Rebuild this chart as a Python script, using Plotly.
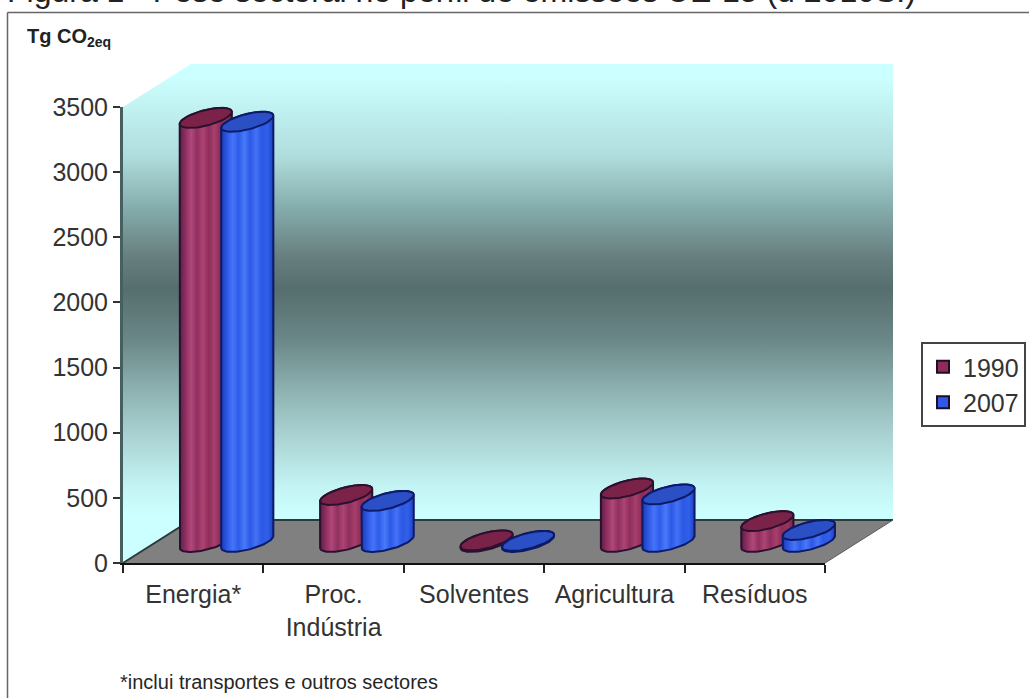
import numpy as np
import plotly.graph_objects as go

# Sector emissions, Tg CO2eq
categories = ["Energia*", "Proc.<br>Indústria", "Solventes", "Agricultura", "Resíduos"]
values_1990 = [3255, 360, 12, 410, 160]
values_2007 = [3225, 315, 8, 365, 92]
y_ticks = [0, 500, 1000, 1500, 2000, 2500, 3000, 3500]
series_names = ["1990", "2007"]

W, H = 1029, 698
X_LEFT, X_RIGHT, Y_BOTTOM, Y_TOP = 123, 825, 563, 107
Y_MAX = 3500
PX_PER_CAT = (X_RIGHT - X_LEFT) / 5
PX_PER_UNIT = (Y_BOTTOM - Y_TOP) / Y_MAX

# Oblique projection of the chart box, expressed in axis units
DEPTH_X = 68 / PX_PER_CAT
DEPTH_Y = 43 / PX_PER_UNIT
BAR_W = 41.5 / PX_PER_CAT
CAP_SKEW_X = 15.8 / PX_PER_CAT
CAP_SKEW_Y = 10 / PX_PER_UNIT
BASE_DEPTH = 0.49

WALL_SCALE = [
    [0.00, "#ccffff"], [0.096, "#ccffff"], [0.15, "#c4f4f4"], [0.25, "#acd4d4"],
    [0.35, "#8cb0b0"], [0.45, "#6a8686"], [0.55, "#566e6e"], [0.615, "#687f7f"],
    [0.715, "#86aeae"], [0.814, "#b0dcdc"], [0.974, "#ccffff"], [1.00, "#ccffff"],
]

STYLES = {
    "1990": dict(line="#2b1030", top="#7a2248", swatch="#8f2a5c",
                 stripes=["#5a2048", "#8f2f5f", "#b0487a", "#90305f", "#ad4472", "#8e2e5c",
                          "#a83f6c", "#8c2c58", "#9a3460", "#702448"]),
    "2007": dict(line="#0c1a6a", top="#2b4fc4", swatch="#2f58e8",
                 stripes=["#1c3cb0", "#2c58e4", "#4674f8", "#2e5cea", "#487af8", "#2c58e6",
                          "#4472f6", "#2c58e4", "#3060ea", "#2040c0"]),
}

fig = go.Figure()


def polygon(xs, ys, **kw):
    fig.add_trace(go.Scatter(x=xs, y=ys, mode="lines", fill="toself", showlegend=False,
                             hoverinfo="skip", **kw))


# Walls and floor of the chart box
wall_gradient = dict(type="vertical", colorscale=WALL_SCALE, start=0, stop=Y_MAX + DEPTH_Y)
polygon([DEPTH_X, 5 + DEPTH_X, 5 + DEPTH_X, DEPTH_X, DEPTH_X],
        [DEPTH_Y, DEPTH_Y, Y_MAX + DEPTH_Y, Y_MAX + DEPTH_Y, DEPTH_Y],
        fillgradient=wall_gradient, line=dict(width=0))
polygon([0, DEPTH_X, DEPTH_X, 0, 0],
        [0, DEPTH_Y, Y_MAX + DEPTH_Y, Y_MAX, 0],
        fillgradient=wall_gradient, line=dict(width=0))
polygon([0, 5, 5 + DEPTH_X, DEPTH_X, 0], [0, 0, DEPTH_Y, DEPTH_Y, 0],
        fillcolor="#808080", line=dict(width=0))
fig.add_trace(go.Scatter(x=[0, DEPTH_X, 5 + DEPTH_X], y=[0, DEPTH_Y, DEPTH_Y], mode="lines",
                         line=dict(color="#2e3a3a", width=2), showlegend=False,
                         hoverinfo="skip"))
fig.add_trace(go.Scatter(x=[5, 5 + DEPTH_X], y=[0, DEPTH_Y], mode="lines",
                         line=dict(color="#5a5a5a", width=1), showlegend=False,
                         hoverinfo="skip"))


def cap(cx, cy, t):
    """Cylinder cap: a circle sheared along the depth direction."""
    return (cx + np.cos(t) * BAR_W / 2 + np.sin(t) * CAP_SKEW_X,
            cy + np.sin(t) * CAP_SKEW_Y)


def cylinder(cx, value, style):
    base_y = BASE_DEPTH * DEPTH_Y
    t_right = np.arctan2(CAP_SKEW_X, BAR_W / 2)
    ux, uy = cap(cx, base_y + value, np.linspace(t_right, t_right + np.pi, 40))
    lx, ly = cap(cx, base_y, np.linspace(t_right + np.pi, t_right + 2 * np.pi, 40))
    stops = np.linspace(0, 1, len(style["stripes"]))
    body_scale = [[float(p), c] for p, c in zip(stops, style["stripes"])]
    polygon(np.r_[ux, lx, ux[0]], np.r_[uy, ly, uy[0]],
            fillgradient=dict(type="horizontal", colorscale=body_scale),
            line=dict(color=style["line"], width=2))
    tx, ty = cap(cx, base_y + value, np.linspace(0, 2 * np.pi, 80))
    polygon(tx, ty, fillcolor=style["top"], line=dict(color=style["line"], width=2))


for i in range(len(categories)):
    centre = i + 0.5 + DEPTH_X * BASE_DEPTH
    cylinder(centre - BAR_W / 2, values_1990[i], STYLES["1990"])
    cylinder(centre + BAR_W / 2, values_2007[i], STYLES["2007"])

# Legend entries live on the visible axes, which are drawn above the scene
for name in series_names:
    fig.add_trace(go.Scatter(x=[None], y=[None], mode="markers", name=name, xaxis="x2", yaxis="y2",
                             marker=dict(symbol="square", size=16, color=STYLES[name]["swatch"],
                                         line=dict(color="#1c1020", width=2))))

fig.update_layout(
    width=W, height=H, margin=dict(l=0, r=0, t=0, b=0, autoexpand=False),
    paper_bgcolor="white", plot_bgcolor="rgba(0,0,0,0)",
    font=dict(family="Liberation Sans, Arial, sans-serif", color="#333333"),
    # Full-page axes in the same units as the visible ones, so the box can overhang them
    xaxis=dict(domain=[0, 1], range=[-X_LEFT / PX_PER_CAT, (W - X_LEFT) / PX_PER_CAT],
               visible=False),
    yaxis=dict(domain=[0, 1], range=[(Y_BOTTOM - H) / PX_PER_UNIT, Y_BOTTOM / PX_PER_UNIT],
               visible=False),
    xaxis2=dict(domain=[X_LEFT / W, X_RIGHT / W], range=[0, 5], anchor="y2", tickmode="array",
                tickvals=[i + 0.5 for i in range(5)], ticktext=categories, ticks="",
                tickfont=dict(size=25, color="#333333"), showgrid=False, zeroline=False,
                showline=True, linecolor="#111111", linewidth=2, ticklabelstandoff=8,
                minor=dict(tickmode="array", tickvals=[0, 1, 2, 3, 4, 5], ticks="outside",
                           ticklen=8, tickwidth=2, tickcolor="#222222", showgrid=False)),
    yaxis2=dict(domain=[1 - Y_BOTTOM / H, 1 - Y_TOP / H], range=[0, Y_MAX], anchor="x2",
                tickmode="array", tickvals=y_ticks, ticks="outside", ticklen=7, tickwidth=2,
                tickcolor="#333333", tickfont=dict(size=25, color="#333333"), showgrid=False,
                zeroline=False, showline=True, linecolor="#46605f", linewidth=3),
    legend=dict(x=921 / W, y=1 - 342 / H, xanchor="left", yanchor="top", bgcolor="white",
                bordercolor="#444444", borderwidth=2, font=dict(size=25, color="#333333"),
                itemsizing="constant"),
    shapes=[
        dict(type="line", xref="paper", yref="paper", x0=7.5 / W, x1=1.1, y0=1 - 12.5 / H,
             y1=1 - 12.5 / H, line=dict(color="#666666", width=1.5), layer="below"),
        dict(type="line", xref="paper", yref="paper", x0=7.5 / W, x1=7.5 / W, y0=1 - 12.5 / H,
             y1=-0.1, line=dict(color="#666666", width=1.5), layer="below"),
    ],
    annotations=[
        dict(text="Figura 1 - Peso sectoral no perfil de emissões UE-15 (d 2010S.)",
             xref="paper", yref="paper", x=5 / W, y=1 - 11 / H, xanchor="left", yanchor="bottom",
             showarrow=False, font=dict(size=32, color="#222222"), align="left"),
        dict(text="<b>Tg CO<sub>2eq</sub></b>", xref="paper", yref="paper", x=25 / W, y=1 - 52 / H,
             xanchor="left", yanchor="bottom", showarrow=False, font=dict(size=20, color="#222222")),
        dict(text="*inclui transportes e outros sectores", xref="paper", yref="paper",
             x=118 / W, y=1 - 695 / H, xanchor="left", yanchor="bottom", showarrow=False,
             font=dict(size=20, color="#262626")),
    ],
)

fig.write_html("out.html")
